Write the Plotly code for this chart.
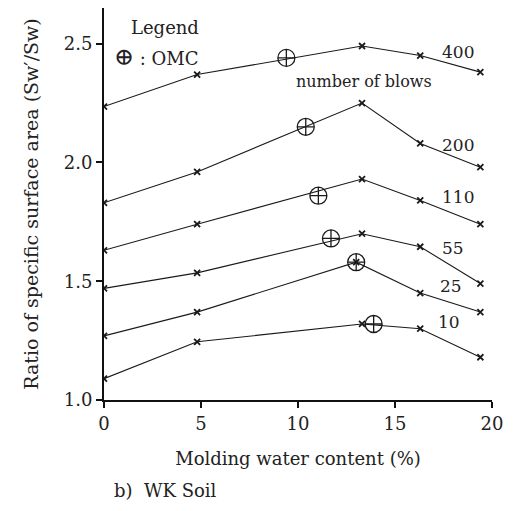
import plotly.graph_objects as go

# Molding water content (%) at each compaction test
water = [0, 4.8, 13.3, 16.3, 19.4]
water_25 = [0, 4.8, 13.0, 16.3, 19.4]

# Ratio of specific surface area Sw'/Sw per number of blows
blows = ["400", "200", "110", "55", "25", "10"]
ratio_400 = [2.235, 2.37, 2.49, 2.45, 2.38]
ratio_200 = [1.83, 1.96, 2.25, 2.08, 1.98]
ratio_110 = [1.63, 1.74, 1.93, 1.84, 1.74]
ratio_55 = [1.47, 1.535, 1.70, 1.645, 1.49]
ratio_25 = [1.27, 1.37, 1.58, 1.45, 1.37]
ratio_10 = [1.09, 1.245, 1.32, 1.30, 1.18]

# Optimum moisture content (OMC) for each curve
omc_x = [9.4, 10.4, 11.05, 11.7, 13.0, 13.9]
omc_y = [2.44, 2.15, 1.86, 1.68, 1.58, 1.32]

# Curve label positions (x, y) in data units
label_x = [17.3, 17.3, 17.3, 17.3, 17.2, 17.1]
label_y = [2.465, 2.075, 1.855, 1.64, 1.48, 1.33]

tick_vals_x = [0, 5, 10, 15, 20]
tick_vals_y = [1.0, 1.5, 2.0, 2.5]

FONT = "DejaVu Serif"
INK = "#222"

series = [
    (water, ratio_400),
    (water, ratio_200),
    (water, ratio_110),
    (water, ratio_55),
    (water_25, ratio_25),
    (water, ratio_10),
]

fig = go.Figure()
for xs, ys in series:
    fig.add_trace(go.Scatter(
        x=xs, y=ys, mode="lines+markers",
        line=dict(color="#1a1a1a", width=1.1),
        marker=dict(symbol="x-thin", size=6, color="#1a1a1a",
                    line=dict(color="#1a1a1a", width=1.8)),
        showlegend=False, hoverinfo="skip",
    ))

fig.add_trace(go.Scatter(
    x=omc_x, y=omc_y, mode="markers",
    marker=dict(symbol="circle-cross-open", size=17, color="#1a1a1a",
                line=dict(color="#1a1a1a", width=1.3)),
    showlegend=False, hoverinfo="skip",
))

for name, lx, ly in zip(blows, label_x, label_y):
    fig.add_annotation(x=lx, y=ly, xref="x", yref="y", text=name,
                       showarrow=False, xanchor="left",
                       font=dict(family=FONT, size=17, color=INK))

fig.add_annotation(x=13.4, y=2.34, xref="x", yref="y", text="number of blows",
                   showarrow=False, xanchor="center", yanchor="middle",
                   font=dict(family=FONT, size=16, color=INK))

fig.add_annotation(x=1.3, y=2.566, xref="x", yref="y", text="Legend",
                   showarrow=False, xanchor="left", yanchor="middle",
                   font=dict(family=FONT, size=18, color=INK))
fig.add_annotation(x=0.4, y=2.445, xref="x", yref="y",
                   text="<span style='font-size:24px'>\u2295</span> : OMC",
                   showarrow=False, xanchor="left", yanchor="middle",
                   font=dict(family=FONT, size=18, color=INK))

fig.add_annotation(x=0.02, y=-0.23, xref="paper", yref="paper",
                   text="b)  WK Soil", showarrow=False, xanchor="left",
                   yanchor="middle",
                   font=dict(family=FONT, size=18, color=INK))

fig.update_xaxes(
    range=[0, 20], tickvals=tick_vals_x, ticktext=[str(v) for v in tick_vals_x],
    showline=True, linecolor="#111", linewidth=2, ticks="outside",
    ticklen=6, tickwidth=2, tickcolor="#111", showgrid=False, zeroline=False,
    tickfont=dict(family=FONT, size=18, color=INK),
    title=dict(text="Molding water content (%)", standoff=20,
               font=dict(family=FONT, size=18, color=INK)),
)
fig.update_yaxes(
    range=[1.0, 2.65], tickvals=tick_vals_y, ticktext=["1.0", "1.5", "2.0", "2.5"],
    showline=True, linecolor="#111", linewidth=2, ticks="outside",
    ticklen=6, tickwidth=2, tickcolor="#111", showgrid=False, zeroline=False,
    tickfont=dict(family=FONT, size=18, color=INK),
    title=dict(text="Ratio of specific surface area (Sw\u2032/Sw)", standoff=20,
               font=dict(family=FONT, size=19, color=INK)),
)

fig.update_layout(
    width=515, height=511,
    margin=dict(l=104, r=23, t=8, b=111),
    paper_bgcolor="white", plot_bgcolor="white",
)

fig.write_html("out.html")
